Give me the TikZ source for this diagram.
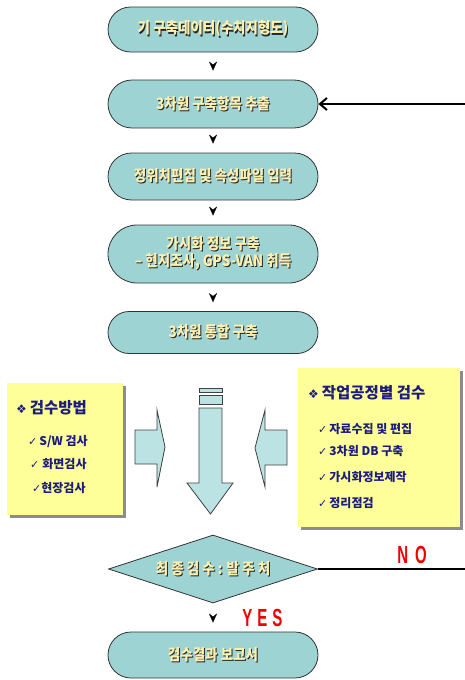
\documentclass[tikz,border=0pt]{standalone}
\usepackage{fontspec}
\usepackage{graphicx}
\newfontfamily\kr{Noto Sans CJK KR}
\newfontfamily\dv{DejaVu Sans}
\newfontfamily\lib{Liberation Sans}
\usetikzlibrary{shapes.misc,shapes.geometric,arrows.meta,shadows}
\definecolor{tealfill}{HTML}{9DD3D3}
\definecolor{cream}{HTML}{FFF0B0}
\definecolor{pale}{HTML}{BCE3E3}
\definecolor{yel}{HTML}{FFFF99}
\definecolor{navy}{HTML}{1C1C80}
\definecolor{nored}{HTML}{F00000}
\newcommand\shd[1]{\makebox[0pt][l]{\hspace*{1pt}\raisebox{-1pt}{\color{black!85}#1}}{\color{cream}#1}}
\newcommand\ntx[1]{\scalebox{1}[1.15]{\shd{#1}}}
\newcommand\chk{{\dv\fontsize{11}{12}\selectfont ✓}}
\newcommand\dmd{{\dv\fontsize{12}{12}\selectfont ❖}}
\tikzset{
  stad/.style={rounded rectangle, draw=black!80, line width=0.8pt, fill=tealfill,
    minimum width=210pt, inner sep=0pt, font=\kr\bfseries\fontsize{13.5}{16}\selectfont, align=center},
  dia/.style={diamond, draw=black!80, line width=0.8pt, fill=tealfill, aspect=3.07,
    minimum width=209pt, minimum height=68pt, inner sep=0pt, font=\kr\bfseries\fontsize{13.5}{16}\selectfont},
  flowarr/.style={white, line width=0.2pt, shorten <=3pt, shorten >=9pt,
    -{Stealth[black,length=9pt,width=8pt,inset=3pt]}},
  ybox/.style={fill=yel, draw=none, drop shadow={shadow xshift=3pt, shadow yshift=-3pt, fill=black!45, opacity=1}},
  boxhead/.style={anchor=west, inner sep=0pt, text=navy, font=\kr\bfseries\fontsize{15.5}{18}\selectfont},
  boxitem/.style={anchor=west, inner sep=0pt, text=navy, font=\kr\bfseries\fontsize{12}{14}\selectfont},
  blockarr/.style={draw=black!75, line width=0.8pt, fill=pale, line join=miter},
  redlbl/.style={text=nored, inner sep=0pt, font=\lib\bfseries\fontsize{15}{16}\selectfont},
  thick2/.style={line width=2pt, black}
}
\begin{document}
\begin{tikzpicture}[x=1pt,y=-1pt]
\useasboundingbox (0,0) rectangle (465,680);
% flow nodes
\node[stad, minimum height=45pt] (n1) at (213,29.5) {\ntx{기 구축데이터(수치지형도)}};
\node[stad, minimum height=48pt] (n2) at (213,104) {\ntx{3차원 구축항목 추출}};
\node[stad, minimum height=47pt] (n3) at (213,176.5) {\ntx{정위치편집 및 속성파일 입력}};
\node[stad, minimum height=58pt] (n4) at (213,254) {\ntx{가시화 정보 구축}\\[1pt]\ntx{– 현지조사, GPS-VAN 취득}};
\node[stad, minimum height=42pt] (n5) at (213,332.5) {\ntx{3차원 통합 구축}};
\node[dia] (d) at (213,569) {\ntx{최 종 검 수 : 발 주 처}};
\node[stad, minimum height=46pt] (n6) at (213,655) {\ntx{검수결과 보고서}};
% small arrowheads
\draw[flowarr] (n1) -- (n2);
\draw[flowarr] (n2) -- (n3);
\draw[flowarr] (n3) -- (n4);
\draw[flowarr] (n4) -- (n5);
\draw[flowarr] (d) -- (n6);
% feedback lines
\coordinate (inend) at (465,104);
\coordinate (noend) at (465,569);
\draw[thick2, -{Straight Barb[length=7pt,width=12pt,line width=2pt]}] (inend) -- (n2.east);
\draw[thick2] (d.east) -- (noend);
\node[redlbl] (no) at (412,555) {\scalebox{1}[1.65]{N\hspace{7pt}O}};
\node[redlbl] (yes) at (262.5,617.5) {\scalebox{1}[1.65]{Y\hspace{5pt}E\hspace{5pt}S}};
% yellow boxes
\node[ybox, minimum width=116pt, minimum height=132pt] (lb) at (65,449) {};
\node[ybox, minimum width=162pt, minimum height=159pt] (rb) at (379,447.5) {};
\node[boxhead] (lh) at (16,408) {\dmd\hspace{3pt}검수방법};
\node[boxitem] (l1) at (28,442) {\chk\hspace{2pt}S/W 검사};
\node[boxitem] (l2) at (30,464) {\chk\hspace{3pt}화면검사};
\node[boxitem] (l3) at (32,488) {\chk 현장검사};
\node[boxhead] (rh) at (308,393) {\dmd\hspace{3pt}작업공정별 검수};
\node[boxitem] (r1) at (318,429) {\chk\hspace{2pt}자료수집 및 편집};
\node[boxitem] (r2) at (318,451) {\chk\hspace{2pt}3차원 DB 구축};
\node[boxitem] (r3) at (318,477) {\chk\hspace{2pt}가시화정보제작};
\node[boxitem] (r4) at (318,503) {\chk\hspace{2pt}정리점검};
% block arrows
\draw[blockarr] (199,388) rectangle (222,392);
\draw[blockarr] (199,395) rectangle (222,404);
\draw[blockarr] (199,408) -- (222,408) -- (222,483) -- (233,483) -- (210.5,514) -- (187,483) -- (199,483) -- cycle;
\draw[blockarr] (135,430) -- (157,430) -- (157,410) -- (165,447) -- (157,487) -- (157,464) -- (135,464) -- cycle;
\draw[blockarr] (287,430) -- (265,430) -- (265,410) -- (255,448) -- (265,487) -- (265,465) -- (287,465) -- cycle;
\end{tikzpicture}
\end{document}
